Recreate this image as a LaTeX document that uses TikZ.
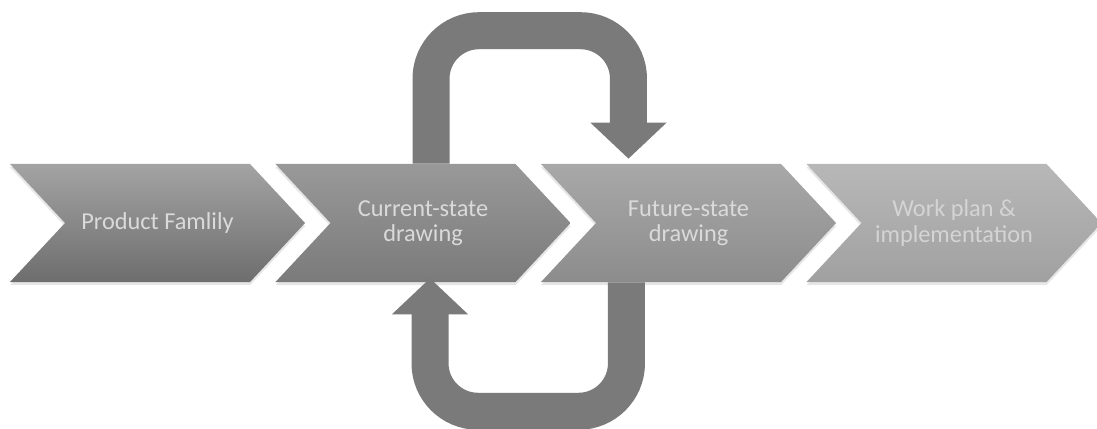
\documentclass[tikz,border=0pt]{standalone}
\usepackage{fontspec}
\setmainfont{Carlito}
\usepackage{tikz}
\usetikzlibrary{arrows.meta, positioning, shapes.symbols, shadows}
\definecolor{loopgray}{HTML}{7A7A7A}
\definecolor{labelgray}{HTML}{DADADA}

\begin{document}
\begin{tikzpicture}[
    x=0.025cm, y=-0.025cm,
    font=\fontsize{17.3}{17.8}\selectfont,
    stage/.style={signal, signal to=east, signal from=west, signal pointer angle=94,
      minimum width=7.375cm, minimum height=2.95cm, inner sep=0pt, align=center,
      text=labelgray, drop shadow={shadow xshift=0pt, shadow yshift=-0.08cm, opacity=0.2}},
    back/.style={draw=loopgray, line width=0.925cm, rounded corners=1.2cm,
      -{Triangle[width=1.85cm, length=0.9cm]}}
  ]
    \useasboundingbox (0,0) rectangle (1097,428);

    \node[stage, top color=black!36, bottom color=black!57] (prod) at (157.5,223) {Product Famlily};
    \node[stage, top color=black!40, bottom color=black!52] (cur)  at (423,223)   {Current-state\\drawing};
    \node[stage, top color=black!34, bottom color=black!45] (fut)  at (688.5,223) {Future-state\\drawing};
    \node[stage, top color=black!28, bottom color=black!37, text=black!17] (wp) at (954,223) {Work plan \&\\implementation};

    % improvement loop between current and future state
    \draw[back] ([xshift=0.2cm]cur.north) -- ++(0,-133) -| ([xshift=-1.5cm, yshift=0.125cm]fut.north);
    \draw[back] ([xshift=-1.55cm]fut.south) -- ++(0,129) -| ([xshift=0.175cm, yshift=0.1cm]cur.south);
  \end{tikzpicture}
\end{document}
